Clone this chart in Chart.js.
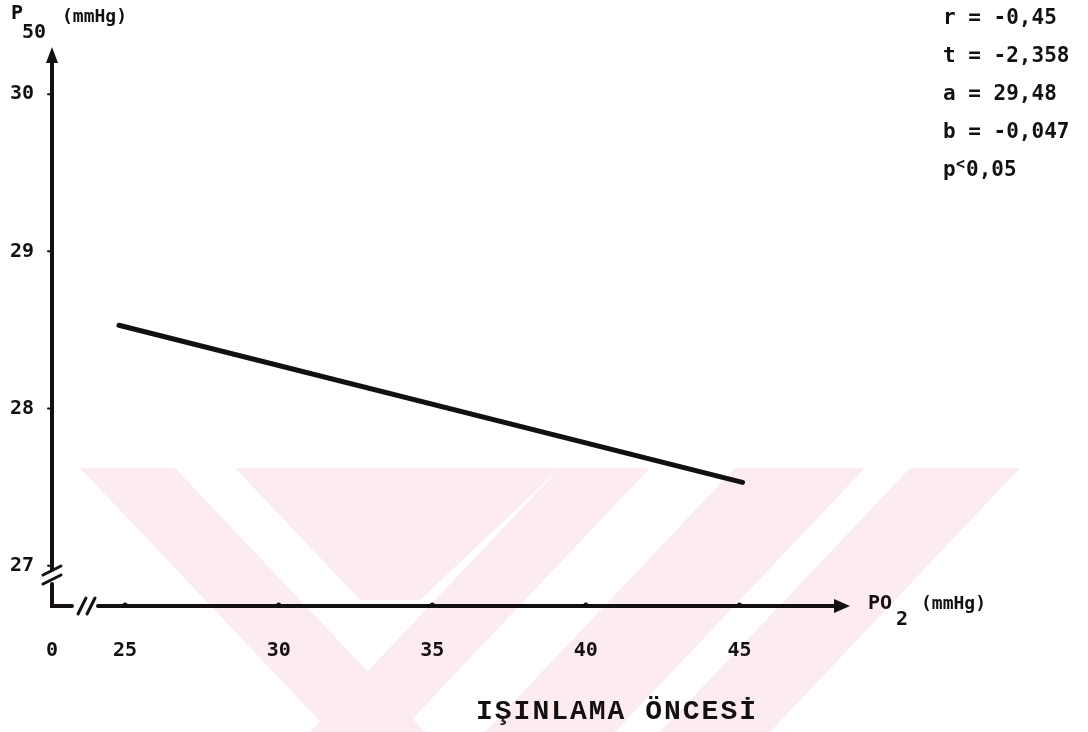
<!DOCTYPE html>
<html>
<head>
<meta charset="utf-8">
<script src="https://cdn.jsdelivr.net/npm/chart.js@4.4.1/dist/chart.umd.min.js"></script>
<style>
  html, body { margin: 0; padding: 0; background: #fff; }
  #wrap { width: 1088px; height: 732px; }
</style>
</head>
<body>
<div id="wrap"><canvas id="chart" width="1088" height="732"></canvas></div>
<script>
// regression line P50 vs PO2
const po2Values = [24.8, 45.1];
const p50Values = [28.53, 27.53];
const xTickValues = [22.62, 25, 30, 35, 40, 45];
const xTickLabels = ['0', '25', '30', '35', '40', '45'];
const yTickValues = [27, 28, 29, 30];
const statLines = ['r = -0,45', 't = -2,358', 'a = 29,48', 'b = -0,047'];
const chartTitle = 'IŞINLAMA ÖNCESİ';

const ink = '#141010';
const mono = '"DejaVu Sans Mono", monospace';

// pale watermark stripes behind the plot
const watermark = {
  id: 'watermark',
  beforeDraw(chart) {
    const ctx = chart.ctx;
    ctx.save();
    ctx.fillStyle = '#fff';
    ctx.fillRect(0, 0, chart.width, chart.height);
    ctx.fillStyle = '#fdecef';
    const top = 468, bot = 732;
    const polys = [
      [[80, top], [175, top], [425, bot], [330, bot]],
      [[235, top], [560, top], [420, 600], [360, 600]],
      [[560, top], [650, top], [400, bot], [310, bot]],
      [[735, top], [865, top], [615, bot], [485, bot]],
      [[910, top], [1020, top], [770, bot], [660, bot]]
    ];
    polys.forEach(p => {
      ctx.beginPath();
      p.forEach((pt, i) => i ? ctx.lineTo(pt[0], pt[1]) : ctx.moveTo(pt[0], pt[1]));
      ctx.closePath();
      ctx.fill();
    });
    ctx.restore();
  }
};

// hand drawn axes, breaks, arrows and all the free text
const decorations = {
  id: 'decorations',
  afterDraw(chart) {
    const ctx = chart.ctx;
    const xs = chart.scales.x, ys = chart.scales.y;
    const x0 = xs.left, y0 = ys.bottom;
    ctx.save();
    ctx.strokeStyle = ink;
    ctx.fillStyle = ink;
    ctx.lineWidth = 4;
    ctx.lineCap = 'round';

    // y axis (with break)
    ctx.beginPath();
    ctx.moveTo(x0, ys.top + 8);
    ctx.lineTo(x0, 570);
    ctx.moveTo(x0, 584);
    ctx.lineTo(x0, y0);
    ctx.lineTo(x0 + 20, y0);
    ctx.stroke();
    ctx.lineWidth = 3;
    ctx.beginPath();
    ctx.moveTo(x0 - 9, 575); ctx.lineTo(x0 + 9, 566);
    ctx.moveTo(x0 - 9, 584); ctx.lineTo(x0 + 9, 575);
    ctx.stroke();
    // arrow head up
    ctx.beginPath();
    ctx.moveTo(x0, ys.top);
    ctx.lineTo(x0 - 6, ys.top + 16);
    ctx.lineTo(x0 + 6, ys.top + 16);
    ctx.closePath();
    ctx.fill();

    // x axis (with break)
    ctx.lineWidth = 4;
    ctx.beginPath();
    ctx.moveTo(x0 + 46, y0);
    ctx.lineTo(xs.right - 10, y0);
    ctx.stroke();
    ctx.lineWidth = 3;
    ctx.beginPath();
    ctx.moveTo(x0 + 26, y0 + 8); ctx.lineTo(x0 + 34, y0 - 8);
    ctx.moveTo(x0 + 35, y0 + 8); ctx.lineTo(x0 + 43, y0 - 8);
    ctx.stroke();
    ctx.beginPath();
    ctx.moveTo(xs.right, y0);
    ctx.lineTo(xs.right - 16, y0 - 7);
    ctx.lineTo(xs.right - 16, y0 + 7);
    ctx.closePath();
    ctx.fill();
    // little tick bumps
    xTickValues.slice(1).forEach(v => {
      const px = xs.getPixelForValue(v);
      ctx.beginPath();
      ctx.arc(px, y0 - 1, 2.5, 0, Math.PI * 2);
      ctx.fill();
    });
    // y tick nubs
    ctx.lineWidth = 2;
    yTickValues.forEach(v => {
      const py = ys.getPixelForValue(v);
      ctx.beginPath();
      ctx.moveTo(x0 - 4, py);
      ctx.lineTo(x0, py);
      ctx.stroke();
    });

    // axis titles
    ctx.textBaseline = 'middle';
    ctx.textAlign = 'left';
    ctx.font = 'bold 20px ' + mono;
    ctx.fillText('P', 11, 14);
    ctx.fillText('50', 22, 33);
    ctx.fillText('PO', 868, 604);
    ctx.fillText('2', 896, 620);
    ctx.font = 'bold 18px ' + mono;
    ctx.fillText('(mmHg)', 62, 17);
    ctx.fillText('(mmHg)', 921, 604);

    // statistics block
    ctx.font = 'bold 21px ' + mono;
    statLines.forEach((s, i) => ctx.fillText(s, 943, 19 + i * 38));
    ctx.fillText('p', 943, 171);
    ctx.font = 'bold 15px ' + mono;
    ctx.fillText('<', 956, 165);
    ctx.font = 'bold 21px ' + mono;
    ctx.fillText('0,05', 966, 171);

    // caption, typewriter style
    ctx.font = 'bold 28px "Liberation Mono", monospace';
    ctx.textAlign = 'center';
    const step = 18.8;
    const startX = 475 + step / 2;
    [...chartTitle].forEach((ch, i) => ctx.fillText(ch, startX + i * step, 712));
    ctx.restore();
  }
};

new Chart(document.getElementById('chart'), {
  type: 'scatter',
  data: {
    datasets: [{
      data: po2Values.map((x, i) => ({ x, y: p50Values[i] })),
      showLine: true,
      borderColor: ink,
      borderWidth: 5,
      borderCapStyle: 'round',
      pointRadius: 0,
      pointHoverRadius: 0,
      fill: false
    }]
  },
  options: {
    responsive: false,
    animation: false,
    events: [],
    layout: { padding: { left: 0, top: 47, right: 238, bottom: 0 } },
    plugins: { legend: { display: false }, tooltip: { enabled: false } },
    scales: {
      x: {
        type: 'linear',
        min: 22.62,
        max: 48.6,
        afterBuildTicks: s => { s.ticks = xTickValues.map(v => ({ value: v })); },
        afterFit: s => { s.height = 126; },
        grid: { display: false, drawTicks: false },
        border: { display: false },
        ticks: {
          autoSkip: false,
          maxRotation: 0,
          padding: 33,
          color: ink,
          font: { family: mono, size: 20, weight: 'bold' },
          callback: (v, i) => xTickLabels[i]
        }
      },
      y: {
        type: 'linear',
        min: 26.744,
        max: 30.3,
        afterBuildTicks: s => { s.ticks = yTickValues.map(v => ({ value: v })); },
        afterFit: s => { s.width = 52; },
        grid: { display: false, drawTicks: false },
        border: { display: false },
        ticks: {
          padding: 18,
          color: ink,
          font: { family: mono, size: 20, weight: 'bold' },
          callback: v => String(v)
        }
      }
    }
  },
  plugins: [watermark, decorations]
});
</script>
</body>
</html>
